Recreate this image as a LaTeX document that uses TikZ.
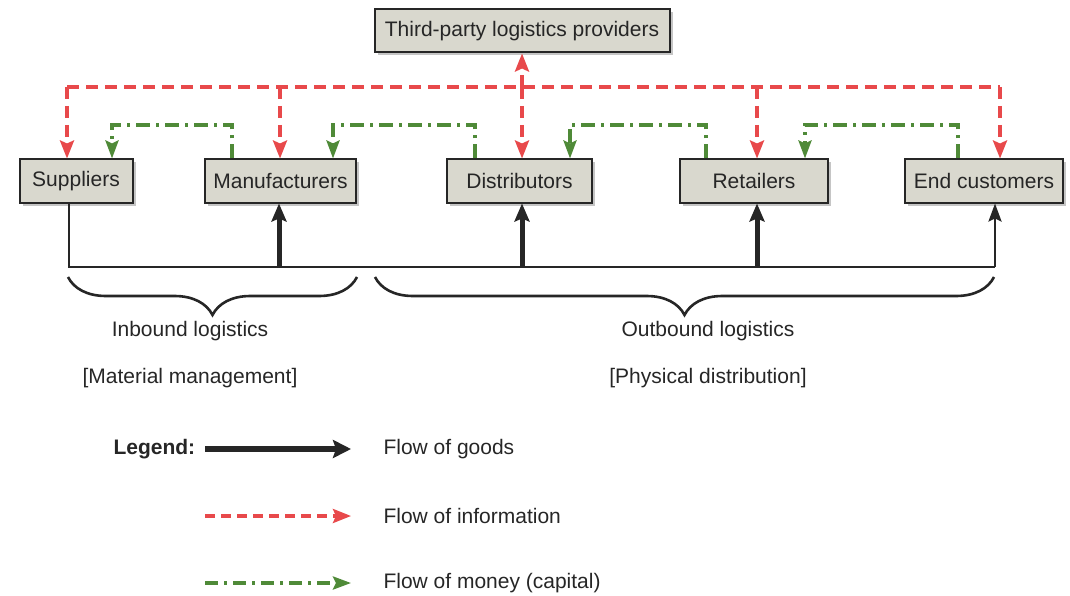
\documentclass[tikz,border=0pt]{standalone}
\usepackage{fontspec}
\setmainfont{Liberation Sans}
\usetikzlibrary{arrows.meta,shadows,decorations.pathreplacing}
\definecolor{boxfill}{HTML}{D9D8CE}
\definecolor{infored}{HTML}{E8494B}
\definecolor{moneygreen}{HTML}{4F8A38}
\definecolor{ink}{HTML}{262626}
\begin{document}
\begin{tikzpicture}[x=1pt,y=-1pt,
  box/.style={draw=ink, line width=2pt, fill=boxfill, minimum height=43pt,
    inner sep=0pt, text=ink, font=\fontsize{21}{24}\selectfont,
    drop shadow={shadow xshift=3pt, shadow yshift=-3pt, fill=black!45}},
  info/.style={draw=infored, line width=3.4pt, dash pattern=on 12pt off 7pt},
  money/.style={draw=moneygreen, line width=3.4pt, dash pattern=on 14pt off 6pt on 3pt off 6pt},
  goods/.style={draw=ink, line width=2.6pt},
  goodsthick/.style={draw=ink, line width=5pt},
  tipc/.style={-{Stealth[length=18pt,width=14pt,inset=3pt]}},
  tipg/.style={-{Stealth[length=18pt,width=13pt,inset=3pt]}},
  label/.style={text=ink, font=\fontsize{21}{24}\selectfont},
  bracestyle/.style={draw=ink, line width=2.6pt, decorate,
    decoration={brace, mirror, amplitude=38pt}}
]
\useasboundingbox (0,0) rectangle (1070,596);

% boxes
\node[box, minimum width=295pt] (tpl) at (522,31) {Third-party logistics providers};
\node[box, minimum width=113pt] (sup) at (76,181) {Suppliers};
\node[box, minimum width=151pt] (man) at (280.5,181) {Manufacturers};
\node[box, minimum width=145pt] (dis) at (519.5,181) {Distributors};
\node[box, minimum width=148pt] (ret) at (754,181) {Retailers};
\node[box, minimum width=158pt] (end) at (984,181) {End customers};

% flow of information
\coordinate (iS) at (67,87);
\coordinate (iM) at (280,87);
\coordinate (iD) at (522,87);
\coordinate (iR) at (757,87);
\coordinate (iE) at (1000,87);
\draw[info] (iS) -- (iE);
\draw[info,tipc] (iS) -- (iS |- sup.north);
\draw[info,tipc] (iM) -- (iM |- man.north);
\draw[info,tipc] (iD) -- (iD |- dis.north);
\draw[info,tipc] (iR) -- (iR |- ret.north);
\draw[info,tipc] (iE) -- (iE |- end.north);
\draw[info,tipc] (iD) -- (tpl.south);

% flow of money
\coordinate (mS) at (112,125);  \coordinate (mM1) at (232,125);
\coordinate (mM) at (333,125);  \coordinate (mD1) at (475,125);
\coordinate (mD) at (570,125);  \coordinate (mR1) at (706,125);
\coordinate (mR) at (805,125);  \coordinate (mE1) at (958,125);
\draw[money,tipg] (mM1 |- man.north) -- (mM1) -- (mS) -- (mS |- sup.north);
\draw[money,tipg] (mD1 |- dis.north) -- (mD1) -- (mM) -- (mM |- man.north);
\draw[money,tipg] (mR1 |- ret.north) -- (mR1) -- (mD) -- (mD |- dis.north);
\draw[money,tipg] (mE1 |- end.north) -- (mE1) -- (mR) -- (mR |- ret.north);

% flow of goods
\coordinate (gS) at (69,267);
\coordinate (gM) at (279,267);
\coordinate (gD) at (522,267);
\coordinate (gR) at (757,267);
\coordinate (gE) at (995,267);
\draw[goods] (gS |- sup.south) -- (gS) -- (gE);
\draw[goods,-{Stealth[length=18pt,width=13pt,inset=3pt]}] (gE) -- (gE |- end.south);
\draw[goodsthick,-{Stealth[length=18pt,width=15pt,inset=3pt]}] (gM) -- (gM |- man.south);
\draw[goodsthick,-{Stealth[length=18pt,width=15pt,inset=3pt]}] (gD) -- (gD |- dis.south);
\draw[goodsthick,-{Stealth[length=18pt,width=15pt,inset=3pt]}] (gR) -- (gR |- ret.south);

% logistics braces
\coordinate (bi1) at (68,277);  \coordinate (bi2) at (357,277);
\coordinate (bo1) at (375,277); \coordinate (bo2) at (994,277);
\draw[bracestyle] (bi1) -- (bi2);
\draw[bracestyle] (bo1) -- (bo2);
\node[label] (inb) at (190,331) {Inbound logistics};
\node[label] (inbm) at (190,378) {[Material management]};
\node[label] (outb) at (708,331) {Outbound logistics};
\node[label] (outbp) at (708,378) {[Physical distribution]};

% legend
\node[label, anchor=west, font=\fontsize{21}{24}\selectfont\bfseries] (leg) at (110,449) {Legend:};
\coordinate (l1a) at (205,449); \coordinate (l1b) at (351,449);
\coordinate (l2a) at (205,516); \coordinate (l2b) at (351,516);
\coordinate (l3a) at (205,583); \coordinate (l3b) at (351,583);
\draw[draw=ink, line width=5.5pt, -{Stealth[length=18pt,width=18pt,inset=3pt]}] (l1a) -- (l1b);
\draw[info, dash pattern=on 10pt off 6pt, tipc] (l2a) -- (l2b);
\draw[money, dash pattern=on 13pt off 6pt on 3pt off 6pt, tipg] (l3a) -- (l3b);
\node[label, anchor=west] (lg1) at (380,449) {Flow of goods};
\node[label, anchor=west] (lg2) at (380,516) {Flow of information};
\node[label, anchor=west] (lg3) at (380,583) {Flow of money (capital)};
\end{tikzpicture}
\end{document}
